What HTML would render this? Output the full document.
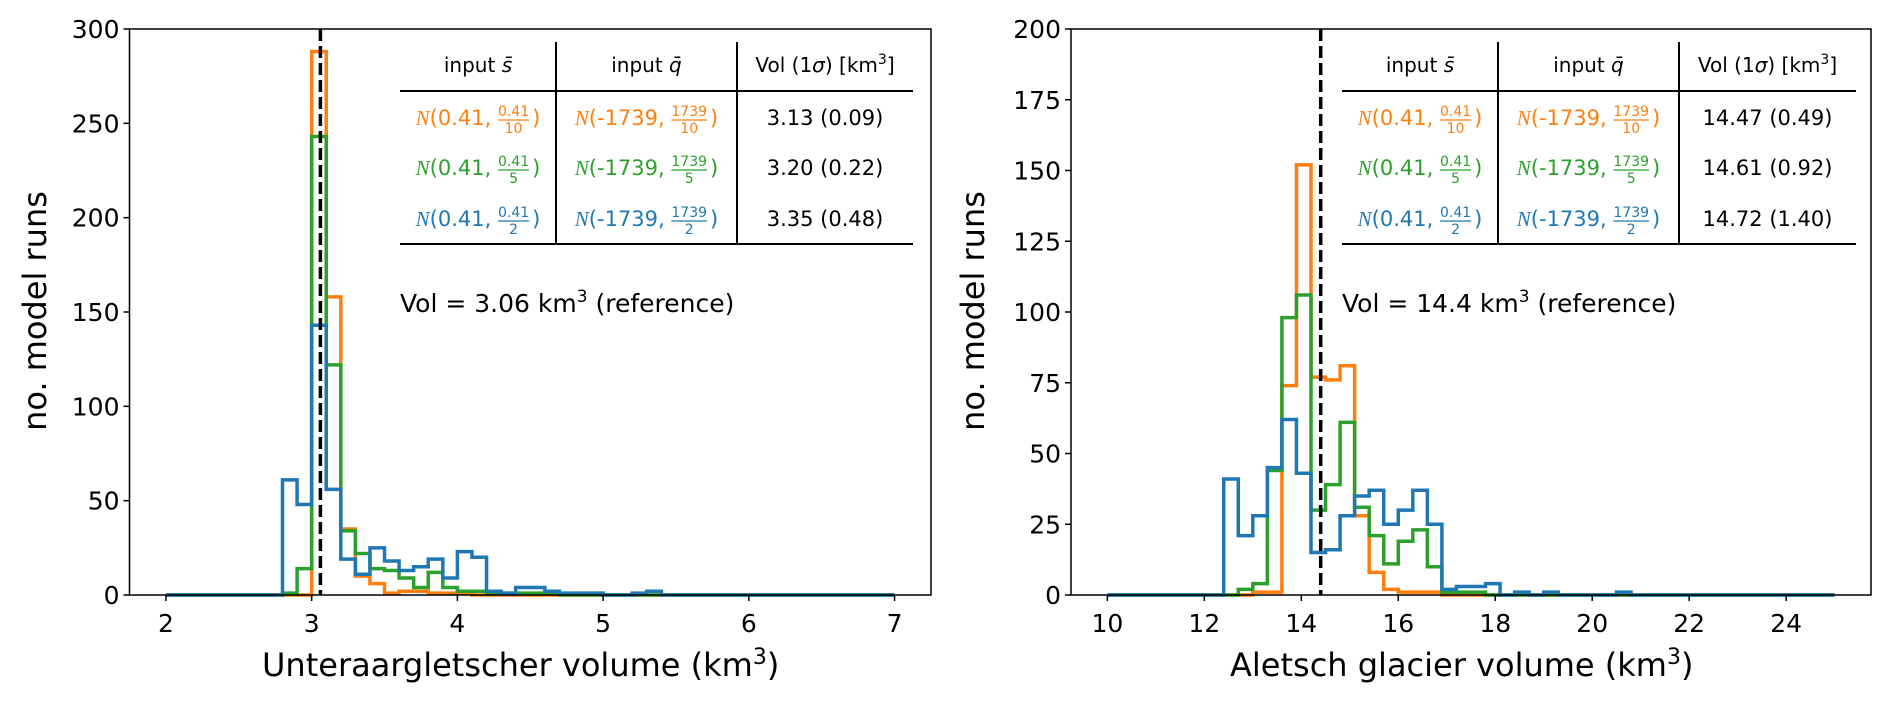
<!DOCTYPE html>
<html><head><meta charset="utf-8"><style>
html,body{margin:0;padding:0;background:#fff;}
svg{display:block;font-family:"DejaVu Sans","Liberation Sans",sans-serif;}
</style></head><body>
<svg id="fig" width="1892" height="703" viewBox="0 0 1892 703" xmlns="http://www.w3.org/2000/svg"></svg>
<script>
// ---- data ----
const leftBinStart = 2.0, leftBinWidth = 0.1;
const leftOrange = [0,0,0,0,0,0,0,0,0,0,288,158,35,10,6,1,2,2,1,1,1,0,0,0,0,0,0,0,0,0,0,0,0,0,0,0,0,0,0,0,0,0,0,0,0,0,0,0,0,0];
const leftGreen  = [0,0,0,0,0,0,0,0,1,14,243,122,34,22,14,13,9,4,12,4,2,2,1,1,1,1,1,0,0,0,0,0,0,0,0,0,0,0,0,0,0,0,0,0,0,0,0,0,0,0];
const leftBlue   = [0,0,0,0,0,0,0,0,61,48,143,56,19,11,25,18,13,15,19,9,23,20,2,1,4,4,2,1,1,1,0,0,1,2,0,0,0,0,0,0,0,0,0,0,0,0,0,0,0,0];
const rightBinStart = 10.0, rightBinWidth = 0.3;
const rightOrange = [0,0,0,0,0,0,0,0,0,0,1,1,74,152,77,76,81,28,8,2,1,1,1,0,0,0,0,0,0,0,0,0,0,0,0,0,0,0,0,0,0,0,0,0,0,0,0,0,0,0];
const rightGreen  = [0,0,0,0,0,0,0,0,0,2,4,44,98,106,30,39,61,31,21,11,19,23,10,1,1,1,0,0,0,0,0,0,0,0,0,0,0,0,0,0,0,0,0,0,0,0,0,0,0,0];
const rightBlue   = [0,0,0,0,0,0,0,0,41,21,28,45,62,43,15,16,28,35,37,25,30,37,25,2,3,3,4,0,1,0,1,0,0,0,0,1,0,0,0,0,0,0,0,0,0,0,0,0,0,0];
const leftXTicks = [2,3,4,5,6,7];
const leftYTicks = [0,50,100,150,200,250,300];
const rightXTicks = [10,12,14,16,18,20,22,24];
const rightYTicks = [0,25,50,75,100,125,150,175,200];
const leftRef = 3.06, rightRef = 14.4;
const leftTableVals = ["3.13 (0.09)","3.20 (0.22)","3.35 (0.48)"];
const rightTableVals = ["14.47 (0.49)","14.61 (0.92)","14.72 (1.40)"];
const denoms = ["10","5","2"];
const colors = ["#ff7f0e","#2ca02c","#1f77b4"];

const NS = "http://www.w3.org/2000/svg";
const svg = document.getElementById('fig');
function el(tag, attrs, parent){const e=document.createElementNS(NS,tag);for(const k in attrs)e.setAttribute(k,attrs[k]);(parent||svg).appendChild(e);return e;}

function panel(cfg){
  const g = el('g',{});
  
  
  const X = v => cfg.x0 + (v - cfg.xmin)/(cfg.xmax-cfg.xmin)*(cfg.x1-cfg.x0);
  const Y = v => cfg.y0 - (v - cfg.ymin)/(cfg.ymax-cfg.ymin)*(cfg.y0-cfg.y1);
  const names=['hist-orange','hist-green','hist-blue'];
  cfg.series.forEach((s,si)=>{
    let d = 'M'+X(cfg.binStart)+','+Y(0);
    s.forEach((v,i)=>{
      const a=cfg.binStart+i*cfg.binWidth, b=a+cfg.binWidth;
      d += ' L'+X(a)+','+Y(v)+' L'+X(b)+','+Y(v);
    });
    d += ' L'+X(cfg.binStart+s.length*cfg.binWidth)+','+Y(0);
    const p = el('path',{d:d,fill:'none',stroke:colors[si],'stroke-width':3.5,'stroke-linejoin':'miter'},g);
    
    
  });
  const rl = el('line',{x1:X(cfg.ref),x2:X(cfg.ref),y1:cfg.y1,y2:cfg.y0,stroke:'#000','stroke-width':3.5,'stroke-dasharray':'12,5'},g);
  
  
  const fr = el('rect',{x:cfg.x0,y:cfg.y1,width:cfg.x1-cfg.x0,height:cfg.y0-cfg.y1,fill:'none',stroke:'#000','stroke-width':1.5},g);
  
  
  cfg.xticks.forEach(t=>{
    el('line',{x1:X(t),x2:X(t),y1:cfg.y0,y2:cfg.y0+6,stroke:'#000','stroke-width':1.5},g);
    const tx = el('text',{x:X(t),y:cfg.y0+37,'text-anchor':'middle','font-size':25},g);
    tx.textContent=t;
    
    
  });
  cfg.yticks.forEach(t=>{
    el('line',{x1:cfg.x0-6,x2:cfg.x0,y1:Y(t),y2:Y(t),stroke:'#000','stroke-width':1.5},g);
    const tx = el('text',{x:cfg.x0-10,y:Y(t)+9,'text-anchor':'end','font-size':25},g);
    tx.textContent=t;
    
    
  });
  const xl = el('text',{x:cfg.xlabelX,y:676,'font-size':32},g);
  xl.innerHTML = cfg.xlabel+' (km<tspan dy="-12" font-size="22">3</tspan><tspan dy="12">)</tspan>';
  
  
  const yl = el('text',{x:0,y:0,'font-size':32,'text-anchor':'middle',transform:'translate('+(cfg.ylabelX+11)+',311) rotate(-90)'},g);
  yl.textContent='no. model runs';
  
  
  const tb = el('g',{},g);
  
  
  const c = cfg.cols;
  el('line',{x1:c[0],x2:c[3],y1:91,y2:91,stroke:'#000','stroke-width':2},tb);
  el('line',{x1:c[0],x2:c[3],y1:244,y2:244,stroke:'#000','stroke-width':2},tb);
  el('line',{x1:c[1],x2:c[1],y1:42,y2:244,stroke:'#000','stroke-width':2},tb);
  el('line',{x1:c[2],x2:c[2],y1:42,y2:244,stroke:'#000','stroke-width':2},tb);
  const cx=[(c[0]+c[1])/2,(c[1]+c[2])/2,(c[2]+c[3])/2];
  const h1=el('text',{x:cx[0],y:72,'text-anchor':'middle','font-size':20},tb);
  h1.innerHTML='input <tspan font-style="italic">s\u0304</tspan>';
  const h2=el('text',{x:cx[1],y:72,'text-anchor':'middle','font-size':20},tb);
  h2.innerHTML='input <tspan font-style="italic">q\u0304</tspan>';
  const h3=el('text',{x:cx[2],y:72,'text-anchor':'middle','font-size':20},tb);
  h3.innerHTML='Vol (1<tspan font-style="italic">σ</tspan>) [km<tspan dy="-8" font-size="14">3</tspan><tspan dy="8">]</tspan>';
  const rowsY=[117,167,218];
  rowsY.forEach((ry,ri)=>{
    normCell(tb, cx[0], ry, '0.41', '0.41', denoms[ri], colors[ri]);
    normCell(tb, cx[1], ry, '-1739', '1739', denoms[ri], colors[ri]);
    const v=el('text',{x:cx[2],y:ry+8,'text-anchor':'middle','font-size':21},tb);
    v.textContent=cfg.vals[ri];
    
    
  });
  const rt = el('text',{x:c[0],y:312,'font-size':25},g);
  rt.innerHTML='Vol = '+cfg.refText+' km<tspan dy="-10" font-size="17">3</tspan><tspan dy="10"> (reference)</tspan>';
  
  
}

function normCell(parent, cx, cy, mean, num, den, col){
  const g = el('g',{fill:col},parent);
  
  
  const t1 = el('text',{x:0,y:cy+8,'font-size':21},g);
  t1.innerHTML='<tspan font-family="Liberation Serif,serif" font-style="italic">N</tspan>('+mean+',\u00A0';
  const w1 = t1.getComputedTextLength();
  const n = el('text',{x:0,y:cy-1,'font-size':14,'text-anchor':'middle'},g); n.textContent=num;
  const d = el('text',{x:0,y:cy+16,'font-size':14,'text-anchor':'middle'},g); d.textContent=den;
  const fw = Math.max(n.getComputedTextLength(), d.getComputedTextLength());
  const t2 = el('text',{x:0,y:cy+8,'font-size':21},g); t2.textContent=')';
  const w2 = t2.getComputedTextLength();
  const total = w1+fw+3+w2;
  const sx = cx-total/2;
  t1.setAttribute('x',sx);
  n.setAttribute('x',sx+w1+fw/2); d.setAttribute('x',sx+w1+fw/2);
  el('line',{x1:sx+w1,x2:sx+w1+fw,y1:cy+3,y2:cy+3,stroke:col,'stroke-width':1.2},g);
  t2.setAttribute('x',sx+w1+fw+3);
}

panel({name:'unteraar-panel',x0:129.5,x1:931,y0:595,y1:29,xmin:1.75,xmax:7.25,ymin:0,ymax:300,
  binStart:leftBinStart,binWidth:leftBinWidth,series:[leftOrange,leftGreen,leftBlue],ref:leftRef,
  xticks:leftXTicks,yticks:leftYTicks,xlabel:'Unteraargletscher volume',xlabelX:262,ylabelX:35,
  cols:[400,556,737,913],vals:leftTableVals,refText:'3.06'});
panel({name:'aletsch-panel',x0:1071,x1:1871,y0:595,y1:29,xmin:9.25,xmax:25.75,ymin:0,ymax:200,
  binStart:rightBinStart,binWidth:rightBinWidth,series:[rightOrange,rightGreen,rightBlue],ref:rightRef,
  xticks:rightXTicks,yticks:rightYTicks,xlabel:'Aletsch glacier volume',xlabelX:1230,ylabelX:973,
  cols:[1342,1498,1679,1856],vals:rightTableVals,refText:'14.4'});
</script>
</body></html>
